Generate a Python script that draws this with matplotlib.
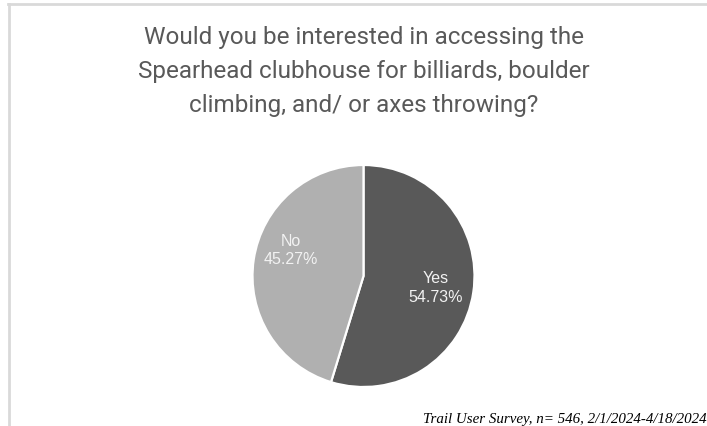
import numpy as np
import matplotlib.pyplot as plt
from matplotlib.lines import Line2D

answers = ['Yes', 'No']
shares = [54.73, 45.27]
slice_colors = ['#595959', '#b0b0b0']

title_lines = ['Would you be interested in accessing the',
               'Spearhead clubhouse for billiards, boulder',
               'climbing, and/ or axes throwing?']
source = 'Trail User Survey, n= 546, 2/1/2024-4/18/2024'

W, H = 707, 427
fig = plt.figure(figsize=(W / 100, H / 100), dpi=100)
fig.patch.set_facecolor('white')

def px(x, y):
    # pixel position (from top-left) -> figure fraction
    return x / W, 1 - y / H

# light frame on top and left edge
fig.add_artist(Line2D([8 / W, 1.0], [1 - 5 / H, 1 - 5 / H], color='#d9d9d9', lw=2))
fig.add_artist(Line2D([8.5 / W, 8.5 / W], [0.0, 1 - 5 / H], color='#d9d9d9', lw=2))

for i, line in enumerate(title_lines):
    fig.text(*px(364, 44 + 34 * i), line, ha='center', va='baseline', fontsize=17.5,
             color='#595959', family='Roboto')

# pie centre at (363.5, 277) px, radius 111 px
cx, cy, r = 363.5, 277, 111
ax = fig.add_axes([(cx - r) / W, (H - cy - r) / H, 2 * r / W, 2 * r / H])

wedges, _ = ax.pie(shares, colors=slice_colors, startangle=90, counterclock=False,
                   wedgeprops=dict(edgecolor='white', linewidth=1.6))
for w, lab, val in zip(wedges, answers, shares):
    mid = np.deg2rad((w.theta1 + w.theta2) / 2)
    dy = 0.14 if lab == 'No' else 0.0
    ax.text(0.66 * np.cos(mid), 0.66 * np.sin(mid) + dy,
            f'{lab}\n{val:.2f}%', ha='center', va='center', fontsize=11.5,
            color='#f2f2f2', family='Liberation Sans', linespacing=1.3)
ax.set_xlim(-1.0, 1.0)
ax.set_ylim(-1.0, 1.0)
ax.axis('off')

fig.text(*px(707, 423), source, ha='right', va='baseline', fontsize=10.8,
         style='italic', family='Liberation Serif', color='black')

fig.savefig('out.png', dpi=100, facecolor='white')
